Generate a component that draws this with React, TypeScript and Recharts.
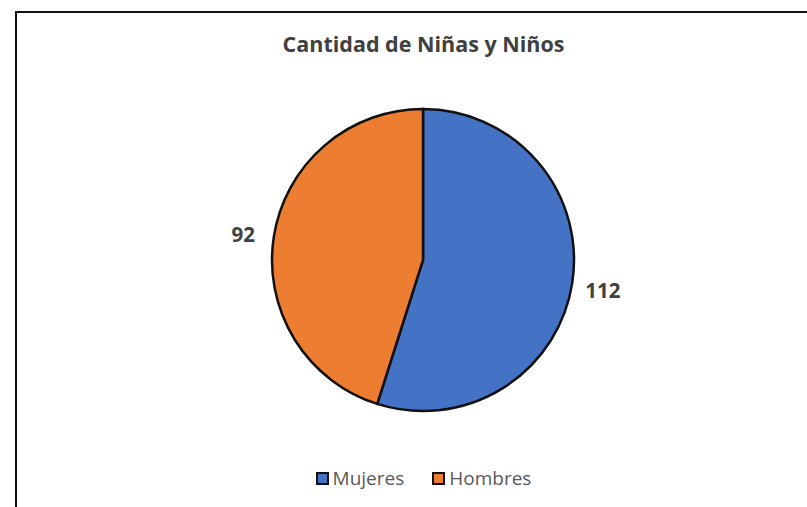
import React from 'react';
import { PieChart, Pie, Cell, Legend } from 'recharts';

const categories = ['Mujeres', 'Hombres'];
const values = [112, 92];
const colors = ['#4472C4', '#ED7D31'];
const title = 'Cantidad de Niñas y Niños';

const data = categories.map((name, i) => ({ name, value: values[i] }));

const RAD = Math.PI / 180;
const renderLabel = (props: any) => {
  const { cx, cy, midAngle, outerRadius, value } = props;
  const r = outerRadius + 31;
  const x = cx + r * Math.cos(-midAngle * RAD);
  const y = cy + r * Math.sin(-midAngle * RAD);
  return (
    <text x={x} y={y + 2} textAnchor="middle" dominantBaseline="central" fill="#404040"
      style={{ fontFamily: 'Open Sans', fontWeight: 700, fontSize: 20.5 }}>
      {value}
    </text>
  );
};

const renderLegend = () => (
  <div style={{ display: 'flex', justifyContent: 'center', gap: 28, fontFamily: 'Open Sans', fontSize: 19, color: '#595959', lineHeight: '26px' }}>
    {categories.map((name, i) => (
      <div key={name} style={{ display: 'flex', alignItems: 'center' }}>
        <span style={{ display: 'inline-block', width: 9, height: 9, background: colors[i], border: '2px solid #111', marginRight: 4 }} />
        <span>{name}</span>
      </div>
    ))}
  </div>
);

export default function App() {
  return (
    <div style={{ position: 'absolute', left: 0, top: 0, width: 807, height: 507, background: '#fff', overflow: 'hidden' }}>
      <div style={{ position: 'absolute', left: 15, top: 11, width: 820, height: 520, borderLeft: '2px solid #111', borderTop: '2px solid #111' }} />
      <div style={{ position: 'absolute', left: 0, top: 29, width: 847, textAlign: 'center', fontFamily: 'Open Sans', fontWeight: 700, fontSize: 21.5, color: '#404040' }}>
        {title}
      </div>
      <div style={{ position: 'absolute', left: 0, top: 0 }}>
        <PieChart width={847} height={507} margin={{ top: 0, right: 0, bottom: 0, left: 0 }}>
          <Pie
            data={data}
            dataKey="value"
            nameKey="name"
            cx={423}
            cy={260}
            outerRadius={151}
            startAngle={90}
            endAngle={-270}
            stroke="#111"
            strokeWidth={2.5}
            label={renderLabel}
            labelLine={false}
            isAnimationActive={false}
          >
            {data.map((d, i) => (
              <Cell key={d.name} fill={colors[i]} />
            ))}
          </Pie>
          <Legend content={renderLegend} wrapperStyle={{ position: 'absolute', left: 0, top: 465, width: 847 }} />
        </PieChart>
      </div>
    </div>
  );
}
